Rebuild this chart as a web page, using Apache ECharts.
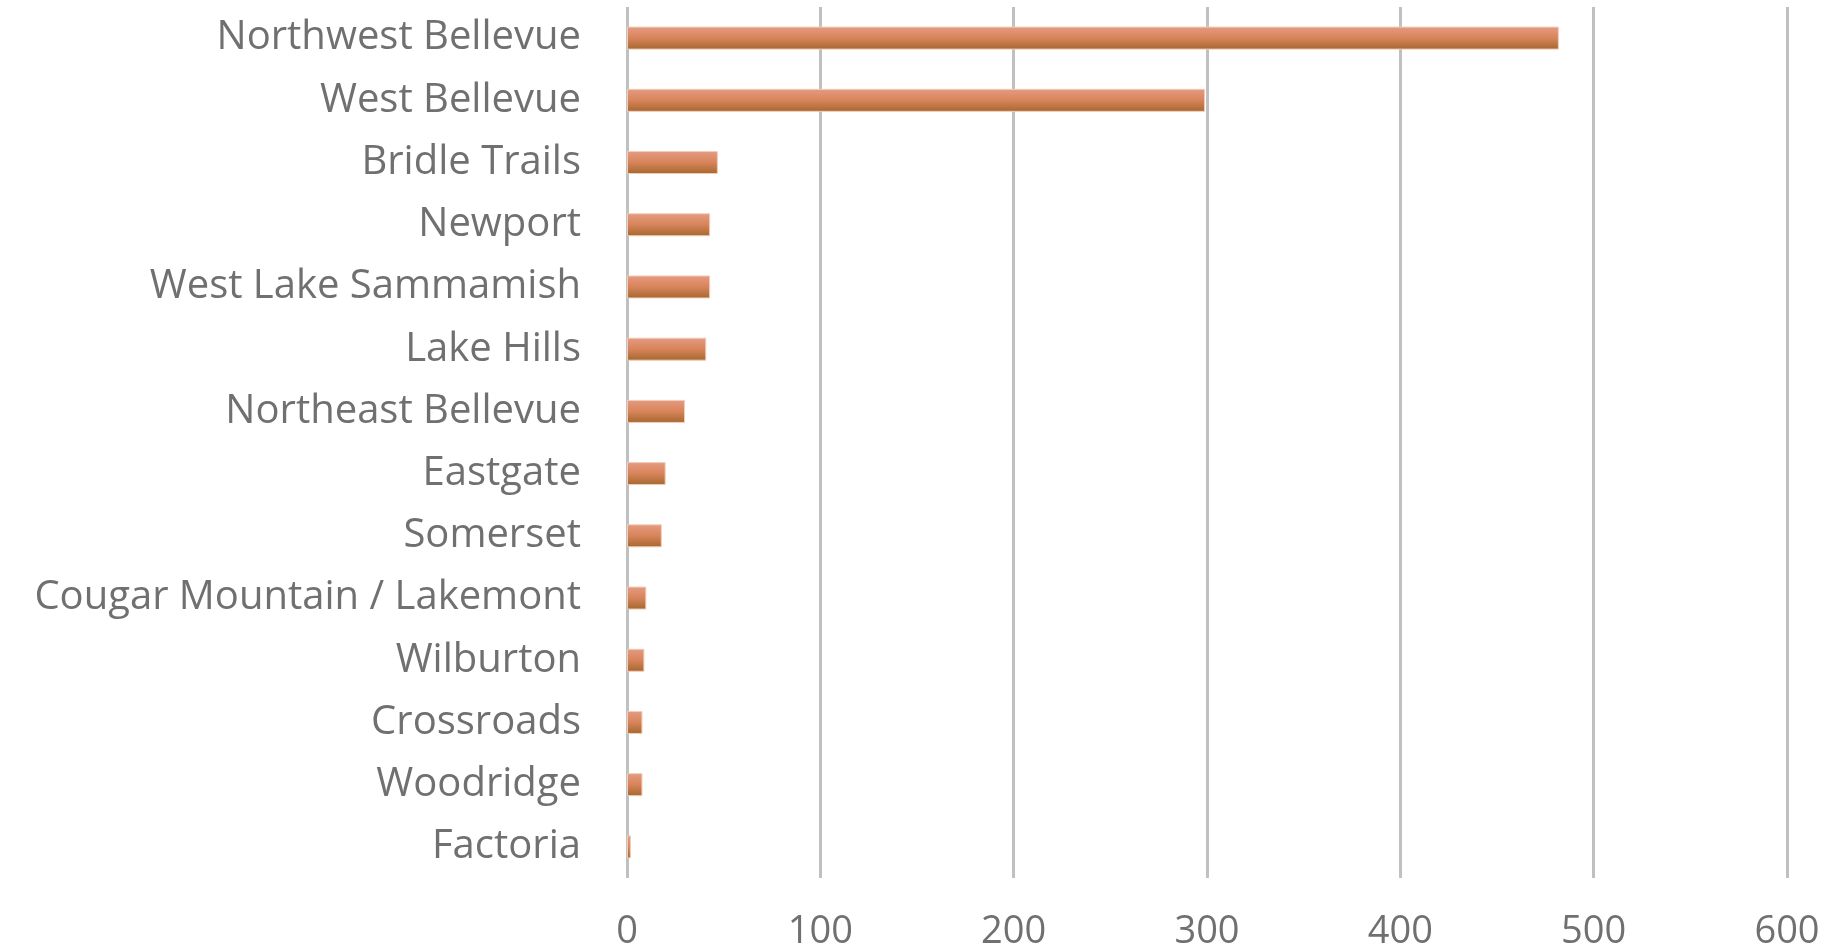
<!DOCTYPE html>
<html>
<head>
<meta charset="utf-8">
<script src="https://cdn.jsdelivr.net/npm/echarts@6/dist/echarts.min.js"></script>
<style>
html,body{margin:0;padding:0;background:#fff;}
#chart{width:1839px;height:950px;}
</style>
</head>
<body>
<div id="chart"></div>
<script>
const categories = ["Northwest Bellevue","West Bellevue","Bridle Trails","Newport","West Lake Sammamish","Lake Hills","Northeast Bellevue","Eastgate","Somerset","Cougar Mountain / Lakemont","Wilburton","Crossroads","Woodridge","Factoria"];
const values = [482, 299, 47, 43, 43, 41, 30, 20, 18, 10, 9, 8, 8, 2];
const xTicks = [0, 100, 200, 300, 400, 500, 600];

const chart = echarts.init(document.getElementById('chart'));
chart.setOption({
  animation: false,
  grid: {left: 627, right: 52, top: 7, bottom: 72, containLabel: false, outerBoundsMode: 'none'},
  xAxis: {
    type: 'value', min: xTicks[0], max: xTicks[xTicks.length-1], interval: 100,
    axisLine: {show: false}, axisTick: {show: false},
    splitLine: {show: true, lineStyle: {color: '#c0c0c0', width: 3}},
    axisLabel: {color: '#707070', fontFamily: 'Open Sans', fontSize: 38, margin: 35}
  },
  yAxis: {
    type: 'category', data: categories, inverse: true,
    axisLine: {show: false}, axisTick: {show: false},
    axisLabel: {color: '#707070', fontFamily: 'Open Sans', fontSize: 40, margin: 46, padding: [0, 0, 8, 0]}
  },
  series: [{
    type: 'bar', data: values, barWidth: 23,
    itemStyle: {
      color: new echarts.graphic.LinearGradient(0, 0, 0, 1, [
        {offset: 0, color: '#e59b82'},
        {offset: 0.5, color: '#d8845a'},
        {offset: 1, color: '#a4672f'}
      ]),
      borderColor: '#f2cdb8', borderWidth: 1
    }
  }]
});
</script>
</body>
</html>
